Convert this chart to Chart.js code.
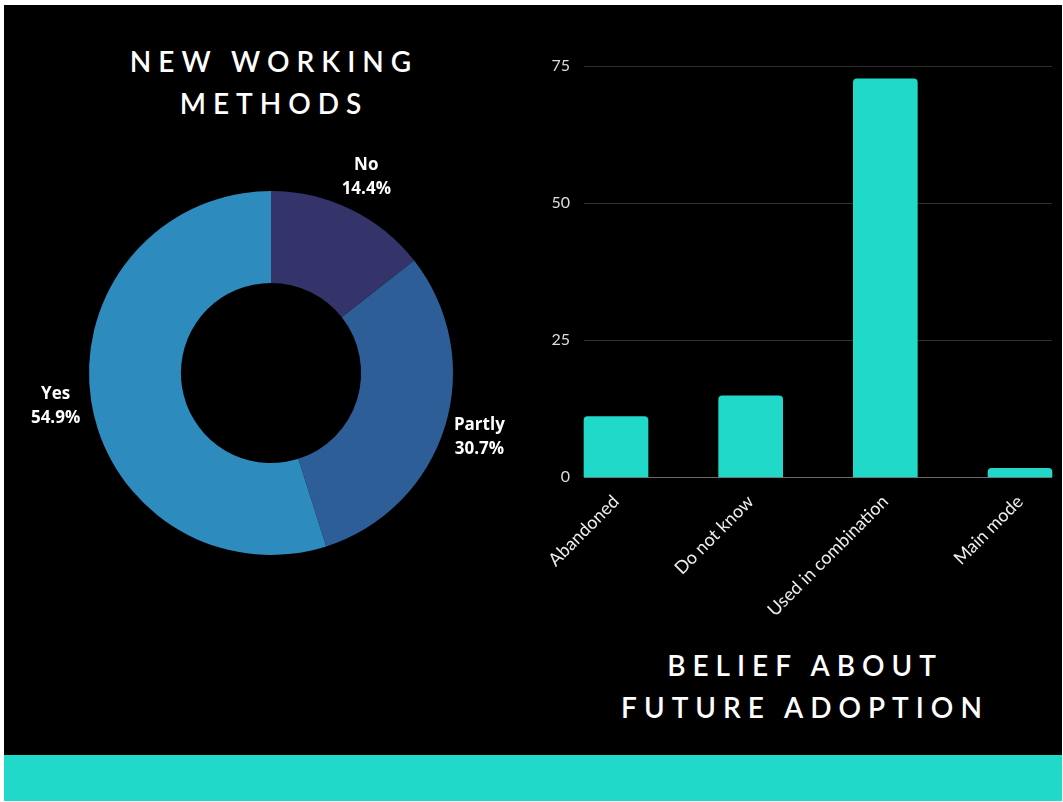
<!DOCTYPE html>
<html>
<head>
<meta charset="utf-8">
<script src="https://cdn.jsdelivr.net/npm/chart.js@4/dist/chart.umd.min.js"></script>
<style>
  body { margin: 0; background: #fff; width: 1063px; height: 802px; position: relative; overflow: hidden; }
  #panel { position: absolute; left: 4px; top: 5px; width: 1058px; height: 750px; background: #000; }
  #band { position: absolute; left: 4px; top: 755px; width: 1058px; height: 46px; background: #21d9c8; }
  .title { position: absolute; color: #fff; font-family: Lato, sans-serif; font-weight: 600;
           font-size: 28px; line-height: 42px; letter-spacing: 7px; text-align: center; }
  #pieTitle { left: 4px; top: 40px; width: 534px; padding-left: 3px; }
  #barTitle { left: 530px; top: 644px; width: 532px; padding-left: 9px; }
  #pieChart { position: absolute; left: 4px; top: 130px; }
  #barChart { position: absolute; left: 530px; top: 18px; }
</style>
</head>
<body>
<div id="panel"></div>
<div id="band"></div>
<div class="title" id="pieTitle">NEW WORKING<br>METHODS</div>
<div class="title" id="barTitle">BELIEF ABOUT<br>FUTURE ADOPTION</div>
<canvas id="pieChart" width="534" height="500"></canvas>
<canvas id="barChart" width="532" height="622"></canvas>
<script>
// 数据
var pieLabels = ['No', 'Partly', 'Yes'];
var pieValues = [14.4, 30.7, 54.9];
var pieColors = ['#34346b', '#2e5e98', '#2e8bbd'];

var barLabels = ['Abandoned', 'Do not know', 'Used in combination', 'Main mode'];
var barValues = [11.0, 14.8, 72.6, 1.6];
var yTicks = [0, 25, 50, 75];

Chart.defaults.font.family = 'Lato, sans-serif';
Chart.defaults.animation = false;

// 环形图外面的标签
var pieLabelPlugin = {
    id: 'pieLabelPlugin',
    afterDatasetsDraw: function (chart) {
        var ctx = chart.ctx;
        var meta = chart.getDatasetMeta(0);
        ctx.save();
        ctx.fillStyle = '#fff';
        ctx.font = 'bold 17px "Open Sans", sans-serif';
        ctx.textAlign = 'center';
        ctx.textBaseline = 'middle';
        meta.data.forEach(function (arc, i) {
            var mid = (arc.startAngle + arc.endAngle) / 2;
            var r = arc.outerRadius + 36;
            var x = arc.x + Math.cos(mid) * r;
            var y = arc.y + Math.sin(mid) * r;
            ctx.fillText(pieLabels[i], x, y - 12);
            ctx.fillText(pieValues[i].toFixed(1) + '%', x, y + 12);
        });
        ctx.restore();
    }
};

// 横向网格线，从第一根柱子画到最后一根
var barGridPlugin = {
    id: 'barGridPlugin',
    beforeDatasetsDraw: function (chart) {
        var ctx = chart.ctx;
        var meta = chart.getDatasetMeta(0);
        var first = meta.data[0];
        var last = meta.data[meta.data.length - 1];
        var left = first.x - first.width / 2;
        var right = last.x + last.width / 2;
        var yScale = chart.scales.y;
        ctx.save();
        ctx.lineWidth = 1;
        yTicks.forEach(function (v) {
            var y = Math.round(yScale.getPixelForValue(v)) + 0.5;
            ctx.strokeStyle = v === 0 ? '#6a6a6a' : '#2e2e2e';
            ctx.beginPath();
            ctx.moveTo(left, y);
            ctx.lineTo(right, y);
            ctx.stroke();
        });
        ctx.restore();
    }
};

new Chart(document.getElementById('pieChart'), {
    type: 'doughnut',
    data: {
        labels: pieLabels,
        datasets: [{
            data: pieValues,
            backgroundColor: pieColors,
            borderWidth: 0
        }]
    },
    options: {
        responsive: false,
        cutout: '49.5%',
        layout: { padding: { left: 85, right: 85, top: 61, bottom: 75 } },
        plugins: { legend: { display: false }, tooltip: { enabled: false } }
    },
    plugins: [pieLabelPlugin]
});

new Chart(document.getElementById('barChart'), {
    type: 'bar',
    data: {
        labels: barLabels,
        datasets: [{
            data: barValues,
            backgroundColor: '#21d9c8',
            borderRadius: 4,
            borderSkipped: 'bottom',
            barThickness: 64,
            clip: false
        }]
    },
    options: {
        responsive: false,
        layout: { padding: { top: 27, right: 42, left: 0, bottom: 0 } },
        plugins: { legend: { display: false }, tooltip: { enabled: false } },
        scales: {
            x: {
                offset: false,
                grid: { display: false },
                border: { display: false },
                ticks: { color: '#eee', font: { size: 18 }, minRotation: 45, maxRotation: 45, padding: 6 },
                afterFit: function (scale) { scale.height = 163; }
            },
            y: {
                min: 0,
                max: 75,
                grid: { display: false },
                border: { display: false },
                ticks: { stepSize: 25, color: '#ddd', font: { size: 16 }, padding: 38 },
                afterFit: function (scale) { scale.width = 86; }
            }
        }
    },
    plugins: [barGridPlugin]
});
</script>
</body>
</html>
